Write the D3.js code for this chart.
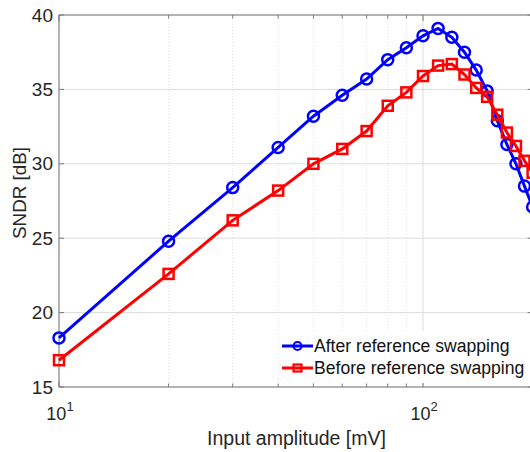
<!DOCTYPE html>
<html><head><meta charset="utf-8">
<script src="https://cdn.jsdelivr.net/npm/d3@7"></script>
<style>body{margin:0;background:#fff;}svg{display:block;font-family:"Liberation Sans",Arial,sans-serif;}</style>
</head><body>
<script>
const amplitudes = [10,20,30,40,50,60,70,80,90,100,110,120,130,140,150,160,170,180,190,200];
const afterSwap  = [18.3,24.8,28.4,31.1,33.2,34.6,35.7,37.0,37.8,38.6,39.1,38.5,37.5,36.3,34.9,32.9,31.3,30.0,28.5,27.1];
const beforeSwap = [16.8,22.6,26.2,28.2,30.0,31.0,32.2,33.9,34.8,35.9,36.6,36.7,36.0,35.1,34.5,33.3,32.1,31.2,30.2,29.4];
const yTicks = [15,20,25,30,35,40];
const xMajor = [10,100];
const xMinor = [20,30,40,50,60,70,80,90,200];
const seriesNames = ["After reference swapping","Before reference swapping"];

const W=530,H=452;
const L=59,T=15,R=532.6,B=387;
const svg=d3.select("body").append("svg").attr("width",W).attr("height",H);
const x=d3.scaleLog().domain([10,200]).range([L,R]);
const y=d3.scaleLinear().domain([15,40]).range([B,T]);

const g=svg.append("g");
// grid
g.selectAll(".yg").data(yTicks).enter().append("line")
 .attr("x1",L).attr("x2",R).attr("y1",d=>y(d)).attr("y2",d=>y(d))
 .attr("stroke","#dcdcdc").attr("stroke-width",1);
g.selectAll(".xm").data(xMinor).enter().append("line")
 .attr("x1",d=>x(d)).attr("x2",d=>x(d)).attr("y1",T).attr("y2",B)
 .attr("stroke","#e0e0e0").attr("stroke-width",1).attr("stroke-dasharray","1,2");
g.selectAll(".xM").data(xMajor).enter().append("line")
 .attr("x1",d=>x(d)).attr("x2",d=>x(d)).attr("y1",T).attr("y2",B)
 .attr("stroke","#dcdcdc").attr("stroke-width",1);

// box
g.append("rect").attr("x",L).attr("y",T).attr("width",R-L).attr("height",B-T)
 .attr("fill","none").attr("stroke","#7a7a7a").attr("stroke-width",1);

// ticks
const allX=xMajor.concat(xMinor);
allX.forEach(v=>{
  const len = xMajor.includes(v)?6:3.5;
  g.append("line").attr("x1",x(v)).attr("x2",x(v)).attr("y1",B).attr("y2",B-len).attr("stroke","#7a7a7a");
  g.append("line").attr("x1",x(v)).attr("x2",x(v)).attr("y1",T).attr("y2",T+len).attr("stroke","#7a7a7a");
});
yTicks.forEach(v=>{
  g.append("line").attr("x1",L).attr("x2",L+5).attr("y1",y(v)).attr("y2",y(v)).attr("stroke","#7a7a7a");
  g.append("line").attr("x1",R-5).attr("x2",R).attr("y1",y(v)).attr("y2",y(v)).attr("stroke","#7a7a7a");
});

// tick labels
g.selectAll(".yl").data(yTicks).enter().append("text")
 .attr("x",L-6).attr("y",d=>y(d)+6.5).attr("text-anchor","end")
 .attr("font-size",19).attr("fill","#262626").text(d=>d);
xMajor.forEach(v=>{
  const t=g.append("text").attr("x",x(v)+1).attr("y",420).attr("text-anchor","middle")
   .attr("font-size",18).attr("fill","#262626");
  t.append("tspan").text("10");
  t.append("tspan").attr("dy",-9).attr("font-size",13).text(Math.log10(v));
});

// axis titles
svg.append("text").attr("x",296.5).attr("y",445).attr("text-anchor","middle")
 .attr("font-size",19.5).attr("fill","#262626").text("Input amplitude [mV]");
svg.append("text").attr("transform","translate(26,193) rotate(-90)").attr("text-anchor","middle")
 .attr("font-size",18.8).attr("fill","#262626").text("SNDR [dB]");

// data
const line=d3.line().x(d=>x(d[0])).y(d=>y(d[1]));
function drawSeries(vals,color,shape){
  const pts=amplitudes.map((a,i)=>[a,vals[i]]);
  g.append("path").datum(pts).attr("d",line).attr("fill","none")
   .attr("stroke",color).attr("stroke-width",3);
  if(shape==="circle"){
    g.selectAll(null).data(pts).enter().append("circle")
     .attr("cx",d=>x(d[0])).attr("cy",d=>y(d[1])).attr("r",5.5)
     .attr("fill","none").attr("stroke",color).attr("stroke-width",2.5);
  } else {
    g.selectAll(null).data(pts).enter().append("rect")
     .attr("x",d=>x(d[0])-5).attr("y",d=>y(d[1])-5).attr("width",10).attr("height",10)
     .attr("fill","none").attr("stroke",color).attr("stroke-width",2.5);
  }
}
drawSeries(afterSwap,"#0000ff","circle");
drawSeries(beforeSwap,"#ff0000","square");

// legend
const lg=svg.append("g");
lg.append("rect").attr("x",280).attr("y",331).attr("width",250).attr("height",52).attr("fill","#fff");
const entries=[{n:seriesNames[0],c:"#0000ff",s:"circle",yy:346},{n:seriesNames[1],c:"#ff0000",s:"square",yy:368}];
entries.forEach(e=>{
  lg.append("line").attr("x1",282).attr("x2",313).attr("y1",e.yy).attr("y2",e.yy)
   .attr("stroke",e.c).attr("stroke-width",3);
  if(e.s==="circle") lg.append("circle").attr("cx",297.5).attr("cy",e.yy).attr("r",4)
   .attr("fill","none").attr("stroke",e.c).attr("stroke-width",2.2);
  else lg.append("rect").attr("x",293.5).attr("y",e.yy-3.5).attr("width",8).attr("height",7)
   .attr("fill","none").attr("stroke",e.c).attr("stroke-width",2.2);
  lg.append("text").attr("x",314).attr("y",e.yy+6.3).attr("font-size",17.6).attr("fill","#111").text(e.n);
});
</script>
</body></html>
